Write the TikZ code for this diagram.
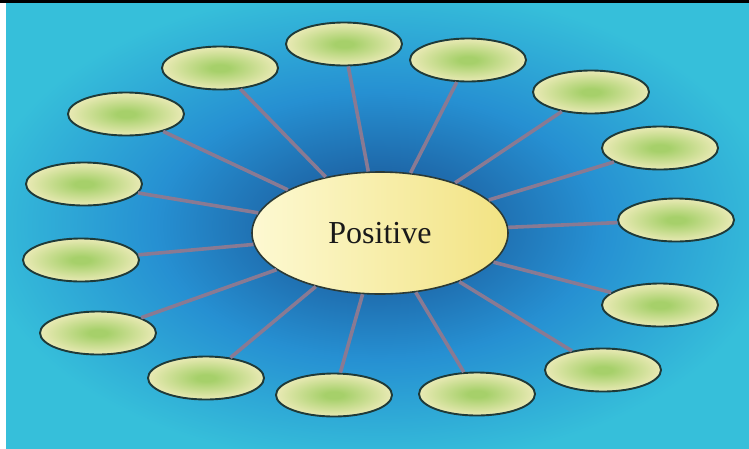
\documentclass[tikz,border=0pt]{standalone}
\usepackage{fontspec}
\setmainfont{Liberation Serif}
\usetikzlibrary{shapes.geometric}
\definecolor{bgdark}{HTML}{1C5E9F}
\definecolor{bgmid}{HTML}{2690D2}
\definecolor{bgedge}{HTML}{36BFDA}
\definecolor{spokegrey}{HTML}{897A93}
\definecolor{leafline}{HTML}{1F3A38}
\definecolor{leafgreen}{HTML}{A6D06A}
\definecolor{leafcream}{HTML}{F0ECBC}
\definecolor{hubline}{HTML}{2B3A36}
\definecolor{hubpale}{HTML}{FDF9D2}
\definecolor{hubgold}{HTML}{F2E383}
\pgfdeclareradialshading{bgglow}{\pgfpoint{0bp}{0bp}}{color(0bp)=(bgdark); color(4bp)=(bgdark); color(15bp)=(bgmid); color(27bp)=(bgedge); color(50bp)=(bgedge)}
\pgfdeclareradialshading{leafglow}{\pgfpoint{0bp}{0bp}}{color(0bp)=(leafgreen); color(4bp)=(leafgreen); color(27bp)=(leafcream); color(50bp)=(leafcream)}
\tikzset{
  hub/.style={ellipse, draw=hubline, line width=1.6pt, left color=hubpale, right color=hubgold,
              minimum width=256pt, minimum height=122pt, inner sep=0pt,
              font=\fontsize{32}{36}\selectfont, text=black!90},
  leaf/.style={ellipse, draw=leafline, line width=1.9pt, shade, shading=leafglow,
               minimum width=116pt, minimum height=43pt, inner sep=0pt},
  spoke/.style={draw=spokegrey, line width=3.6pt},
}

\begin{document}
\begin{tikzpicture}[x=1pt, y=-1pt]
        \useasboundingbox (0,0) rectangle (749,448);
        \fill[white] (0,0) rectangle (749,448);
        \shade[shading=bgglow] (6,3) rectangle (749,448);
        \fill[black] (0,0) rectangle (749,3);
        % hub and the fifteen empty ellipses round it
        \node[hub] (pos) at (380,233) {Positive};
        \node[leaf] (a) at (344,44) {};
        \node[leaf] (b) at (468,60) {};
        \node[leaf] (c) at (591,92) {};
        \node[leaf] (d) at (660,148) {};
        \node[leaf] (e) at (676,220) {};
        \node[leaf] (f) at (660,305) {};
        \node[leaf] (g) at (603,370) {};
        \node[leaf] (h) at (477,394) {};
        \node[leaf] (i) at (334,395) {};
        \node[leaf] (j) at (206,378) {};
        \node[leaf] (k) at (98,333) {};
        \node[leaf] (l) at (81,260) {};
        \node[leaf] (m) at (84,184) {};
        \node[leaf] (n) at (126,114) {};
        \node[leaf] (o) at (220,68) {};
        \draw[spoke] (pos) -- (a); \draw[spoke] (pos) -- (b); \draw[spoke] (pos) -- (c);
        \draw[spoke] (pos) -- (d); \draw[spoke] (pos) -- (e); \draw[spoke] (pos) -- (f);
        \draw[spoke] (pos) -- (g); \draw[spoke] (pos) -- (h); \draw[spoke] (pos) -- (i);
        \draw[spoke] (pos) -- (j); \draw[spoke] (pos) -- (k); \draw[spoke] (pos) -- (l);
        \draw[spoke] (pos) -- (m); \draw[spoke] (pos) -- (n); \draw[spoke] (pos) -- (o);
      \end{tikzpicture}
\end{document}
